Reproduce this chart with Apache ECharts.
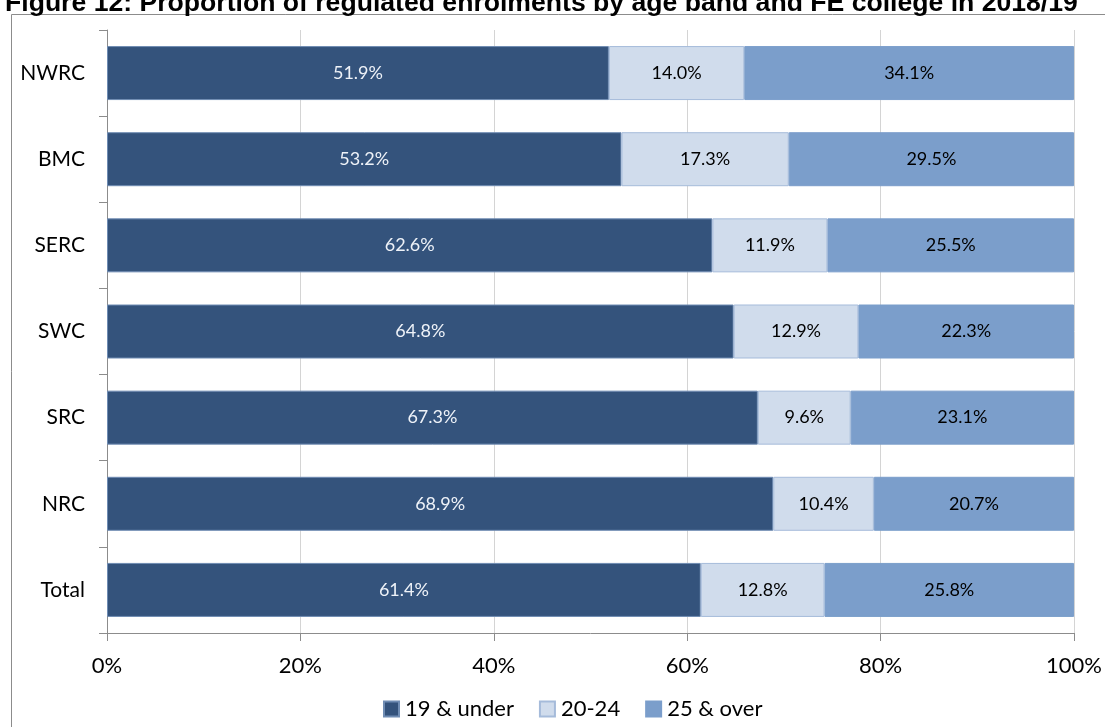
<!DOCTYPE html>
<html>
<head>
<meta charset="utf-8">
<script src="https://cdn.jsdelivr.net/npm/echarts@6/dist/echarts.min.js"></script>
<style>
  html, body { margin: 0; padding: 0; background: #fff; }
  #chart { width: 1105px; height: 727px; }
</style>
</head>
<body>
<div id="chart"></div>
<script>
    var colleges = ['NWRC', 'BMC', 'SERC', 'SWC', 'SRC', 'NRC', 'Total'];
    var under19 = [51.9, 53.2, 62.6, 64.8, 67.3, 68.9, 61.4];
    var age2024 = [14.0, 17.3, 11.9, 12.9, 9.6, 10.4, 12.8];
    var over25 = [34.1, 29.5, 25.5, 22.3, 23.1, 20.7, 25.8];
    var seriesNames = ['19 & under', '20-24', '25 & over'];
    var xTicks = [0, 20, 40, 60, 80, 100];

    var myChart = echarts.init(document.getElementById('chart'));
    var labelFont = 'Lato, Open Sans, sans-serif';

    function makeSeries(name, values, color, textColor, border) {
        return {
            name: name,
            type: 'bar',
            stack: 'all',
            barWidth: 54,
            data: values,
            itemStyle: {
                color: color,
                borderColor: border,
                borderWidth: 1
            },
            label: {
                show: true,
                position: 'inside',
                color: textColor,
                fontFamily: labelFont,
                fontSize: 18,
                formatter: function (p) {
                    return p.value.toFixed(1) + '%';
                }
            }
        };
    }

    var option = {
        animation: false,
        title: {
            text: 'Figure 12: Proportion of regulated enrolments by age band and FE college in 2018/19',
            left: 0,
            top: -15,
            textStyle: {
                fontFamily: 'Liberation Sans, Arial, sans-serif',
                fontWeight: 'bold',
                fontSize: 26.6,
                color: '#000'
            }
        },
        graphic: [{
            type: 'rect',
            shape: {x: 11.5, y: 14.5, width: 1200, height: 800},
            style: {fill: '#fff', stroke: '#8c8c8c', lineWidth: 1},
            z: -10
        }],
        legend: {
            bottom: 2,
            left: 378,
            itemWidth: 15,
            itemHeight: 15,
            itemGap: 25,
            icon: 'rect',
            textStyle: {
                fontFamily: labelFont,
                fontSize: 22,
                color: '#000',
                padding: [0, 0, 0, 1]
            },
            data: seriesNames
        },
        grid: {
            left: 107,
            right: 30,
            top: 30,
            bottom: 94
        },
        xAxis: {
            type: 'value',
            min: 0,
            max: 100,
            interval: 20,
            axisLine: {show: true, lineStyle: {color: '#8c8c8c'}},
            axisTick: {show: true, length: 8, lineStyle: {color: '#8c8c8c'}},
            splitLine: {show: true, lineStyle: {color: '#d4d4d4'}},
            axisLabel: {
                margin: 22,
                fontFamily: labelFont,
                fontSize: 22,
                color: '#000',
                formatter: function (v) {
                    return xTicks.indexOf(v) >= 0 ? v + '%' : '';
                }
            }
        },
        yAxis: {
            type: 'category',
            inverse: true,
            data: colleges,
            axisLine: {show: true, lineStyle: {color: '#8c8c8c'}},
            axisTick: {show: true, length: 8, lineStyle: {color: '#8c8c8c'}},
            axisLabel: {
                margin: 22,
                fontFamily: labelFont,
                fontSize: 21,
                color: '#000'
            }
        },
        series: [
            makeSeries(seriesNames[0], under19, '#34537c', '#eef2f8', '#6f8cb3'),
            makeSeries(seriesNames[1], age2024, '#d0dcec', '#000', '#a5bbda'),
            makeSeries(seriesNames[2], over25, '#7b9ecb', '#000', '#7b9ecb')
        ]
    };

    myChart.setOption(option);
</script>
</body>
</html>
